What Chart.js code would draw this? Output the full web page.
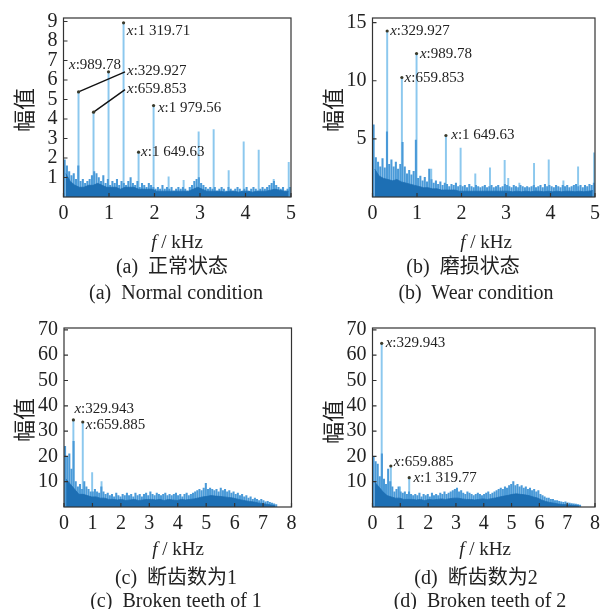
<!DOCTYPE html>
<html><head><meta charset="utf-8">
<script src="https://cdn.jsdelivr.net/npm/chart.js@4.4.1/dist/chart.umd.min.js"></script>
<style>
html,body{margin:0;padding:0;background:#fff;}
#wrap{position:relative;width:605px;height:609px;overflow:hidden;background:#fff;}
canvas{position:absolute;left:0;top:0;}
.t{position:absolute;transform:translate(-50%,-50%);white-space:nowrap;font-family:"Liberation Serif","Noto Sans CJK SC",serif;color:#222;line-height:1;}
.ax{font-size:19px;}
.cap{font-size:20px;}
.yt{font-family:"Noto Sans CJK SC",sans-serif;font-size:22px;transform:translate(-50%,-50%) rotate(-90deg);}
</style></head><body><div id="wrap">
<canvas id="ca" width="605" height="609"></canvas>
<canvas id="cb" width="605" height="609"></canvas>
<canvas id="cc" width="605" height="609"></canvas>
<canvas id="cd" width="605" height="609"></canvas>
<div class="t yt" style="left:22px;top:110px">幅值</div>
<div class="t yt" style="left:331px;top:110px">幅值</div>
<div class="t yt" style="left:22px;top:420px">幅值</div>
<div class="t yt" style="left:331px;top:422px">幅值</div>
<div class="t ax" style="left:177px;top:241px"><i>f</i> / kHz</div>
<div class="t ax" style="left:486px;top:241px"><i>f</i> / kHz</div>
<div class="t ax" style="left:178px;top:548px"><i>f</i> / kHz</div>
<div class="t ax" style="left:485px;top:548px"><i>f</i> / kHz</div>
<div class="t cap" style="left:172px;top:266px">(a)&nbsp; 正常状态</div>
<div class="t cap" style="left:176px;top:292px">(a)&nbsp; Normal condition</div>
<div class="t cap" style="left:463px;top:266px">(b)&nbsp; 磨损状态</div>
<div class="t cap" style="left:476px;top:292px">(b)&nbsp; Wear condition</div>
<div class="t cap" style="left:176px;top:577px">(c)&nbsp; 断齿数为1</div>
<div class="t cap" style="left:176px;top:600px">(c)&nbsp; Broken teeth of 1</div>
<div class="t cap" style="left:476px;top:577px">(d)&nbsp; 断齿数为2</div>
<div class="t cap" style="left:480px;top:600px">(d)&nbsp; Broken teeth of 2</div>
</div>
<script>
// ---------------- DATA ----------------
// tick labels
const xTicks5 = [0,1,2,3,4,5];
const xTicks8 = [0,1,2,3,4,5,6,7,8];
const yTicksA = [1,2,3,4,5,6,7,8,9];
const yTicksB = [5,10,15];
const yTicksCD = [10,20,30,40,50,60,70];

// frequency bin widths (kHz) of the noise arrays
const binTop5 = 0.05, binBase5 = 0.1;
const binTop8 = 0.075, binBase8 = 0.15;

// (a) normal condition
const noiseTopA = [
 1.9,1.6,1.3,1.1,1.2,0.9,1.6,0.8,0.9,0.7,
 0.8,0.9,1.1,1.3,1.2,1.0,0.8,1.1,0.7,0.9,
 0.6,0.8,0.7,0.9,0.6,0.8,0.7,0.6,0.8,1.0,
 0.7,0.6,0.8,0.5,0.7,0.6,0.5,0.7,0.6,0.5,
 0.4,0.5,0.4,0.6,0.4,0.5,0.4,0.5,0.3,0.4,
 0.5,0.4,0.5,0.4,0.3,0.5,0.6,0.8,0.9,1.0,
 0.7,0.6,0.5,0.4,0.5,0.4,0.5,0.3,0.4,0.5,
 0.4,0.3,0.5,0.4,0.3,0.4,0.5,0.4,0.3,0.4,
 0.5,0.3,0.4,0.5,0.4,0.3,0.4,0.5,0.4,0.5,
 0.6,0.7,0.8,0.6,0.5,0.4,0.5,0.3,0.4,0.5];
const noiseBaseA = [
 1.2,0.8,0.6,0.5,0.5,0.6,0.6,0.7,0.6,0.5,
 0.5,0.5,0.4,0.5,0.5,0.5,0.4,0.4,0.4,0.4,
 0.3,0.3,0.3,0.3,0.3,0.3,0.3,0.3,0.4,0.5,
 0.4,0.3,0.3,0.3,0.3,0.25,0.3,0.3,0.25,0.3,
 0.3,0.25,0.3,0.3,0.3,0.35,0.4,0.35,0.3,0.3];
const peakXA = [0.33,0.66,0.99,1.32,1.65,1.98,2.31,2.64,2.97,3.30,3.63,3.96,4.29,4.62,4.95];
const peakYA = [5.39,4.35,6.42,8.93,2.3,4.69,1.03,0.85,3.34,3.46,1.36,2.83,2.4,0.9,1.78];
const markTextA = ['329.927','659.853','989.78','1 319.71','1 649.63','1 979.56'];

// (b) wear condition
const noiseTopB = [
 6.2,3.4,3.0,2.6,3.3,2.5,5.6,2.8,3.2,2.6,
 3.0,2.4,2.8,4.7,2.6,2.0,2.3,1.9,2.2,4.9,
 1.6,1.8,1.4,1.7,1.3,2.4,1.5,1.2,1.4,1.1,
 1.3,1.0,1.2,1.1,0.9,1.1,1.0,1.2,0.9,1.0,
 0.9,1.0,0.8,1.1,0.9,0.8,1.0,0.9,0.8,0.9,
 1.0,0.8,0.9,1.0,0.8,0.9,1.0,0.8,0.9,1.1,
 1.0,0.9,0.8,1.0,0.9,0.8,1.0,0.9,0.8,0.9,
 0.8,0.9,1.0,0.8,0.9,1.0,0.8,1.1,0.9,1.0,
 0.9,0.8,1.0,0.9,0.8,1.0,0.9,1.0,0.8,0.9,
 1.0,1.1,0.9,1.0,0.8,1.0,0.9,1.1,1.0,1.2];
const noiseBaseB = [
 2.4,1.8,1.6,1.5,1.4,1.5,1.3,1.2,1.1,1.0,
 0.9,0.8,0.8,0.7,0.7,0.6,0.6,0.6,0.6,0.5,
 0.5,0.5,0.5,0.5,0.5,0.5,0.5,0.5,0.5,0.5,
 0.5,0.45,0.5,0.45,0.5,0.45,0.5,0.5,0.45,0.5,
 0.45,0.5,0.45,0.5,0.5,0.45,0.5,0.45,0.5,0.55];
const peakXB = [0.33,0.66,0.99,1.32,1.65,1.98,2.31,2.64,2.97,3.05,3.30,3.63,3.96,4.29,4.62,4.98];
const peakYB = [14.28,10.28,12.34,2.4,5.29,4.2,2.0,2.5,3.15,1.6,1.2,2.9,3.2,1.4,2.6,3.8];
const markTextB = ['329.927','659.853','989.78','1 649.63'];

// (c) broken teeth of 1
const noiseTopC = [
 24,20,21,15,26,10,8,9,7,10,
 8,7,6,6,7,6,5.5,8,6,5,
 5.5,4.5,5,4,5.5,4.5,4,5,4.5,5.5,
 4.5,5,4,5.5,4.5,5,4,5,5.5,4.5,
 6,5,4.5,5.5,5,4.5,5,5.5,4.5,5,
 4.5,5,5.5,4.5,5,4,5,5.5,4.5,5,
 5.5,6,6.5,7,6.5,7.5,9.4,7,7.5,7,
 6.5,7,6,7.5,6.5,7,6,6.5,5.5,6,
 5,5.5,4.5,5,4,4.5,3.5,4,3,3.5,
 3,2.5,3,2.5,2,2.2,1.8,1.5,1.3,1.0];
const noiseBaseC = [
 11,9,7,5,5,4.5,4,4,3.5,3.5,
 3,3,2.8,3,2.6,2.8,3,2.6,2.8,3,
 3,2.8,3,2.6,3,2.8,2.6,3,2.8,3,
 3.2,3.6,4,4.2,4.5,4.3,4.2,4,3.8,3.6,
 3.2,2.8,2.5,2.2,2,1.6,1.4,1.1,0.8,0.5];
const peakXC = [0.33,0.66,0.99,1.32];
const peakYC = [34.4,33.6,13.6,10];
const markTextC = ['329.943','659.885'];

// (d) broken teeth of 2
const noiseTopD = [
 20,18,17,12,21,11,9,15,10,8,
 6,7,8,6,5.5,6,5,6,5,4.5,
 5,4.5,5.5,4,5,4.5,5,4,5.5,4.5,
 5,4.5,5.5,5,6,5,5.5,6,6.5,7,
 7.5,6,6.5,5.5,5,6,5.5,5,4.5,5,
 5.5,5,4.5,5,5.5,6,5,5.5,6,6.5,
 7,7.5,7,8,7.5,8.5,9,10,8.5,9,
 8,8.5,7.5,8,7,7.5,6.5,7,6,6.5,
 5,4.5,4,3.5,3.5,3,3,2.5,2.5,2.2,
 2,1.8,2,1.6,1.5,1.4,1.3,1.2,1.0,0.8];
const noiseBaseD = [
 10,8,6,4.5,4,3.5,3.5,3,3,3,
 2.8,3,2.6,3,2.8,3,3.2,3,3.3,3.5,
 3.5,3.2,3,3,2.8,3,3.2,3,3.3,3.6,
 4,4.3,4.6,5,5.2,5,4.8,4.5,4,3.6,
 2.8,2.2,1.8,1.5,1.2,1,0.9,0.8,0.6,0.4];
const peakXD = [0.33,0.66,0.99,1.32];
const peakYD = [64.7,16.2,8,11.6];
const markTextD = ['329.943','659.885','1 319.77'];

// ---------------- RENDER ----------------
const COL_TOP = '#4a9ad8', COL_BASE = '#1d6fb4', COL_PEAK = '#8cc8ee';
const SERIF = '"Liberation Serif", "Times New Roman", serif';

function bins(vals, w){ return vals.map((v,i)=>({x:(i+0.5)*w, y:v})); }
function pairs(xs, ys){ return xs.map((x,i)=>({x:x, y:ys[i]})); }

function makeFrame(marks, peakX, peakY){
  return {
    id:'frame',
    afterDatasetsDraw(chart){
      const {ctx, chartArea:a, scales:{x, y}} = chart;
      ctx.save();
      ctx.strokeStyle = '#333'; ctx.lineWidth = 1.2;
      ctx.strokeRect(a.left, a.top, a.right - a.left, a.bottom - a.top);
      ctx.beginPath();
      x.ticks.forEach(t => { const p = x.getPixelForValue(t.value); ctx.moveTo(p, a.bottom); ctx.lineTo(p, a.bottom - 4); });
      y.ticks.forEach(t => { const p = y.getPixelForValue(t.value); ctx.moveTo(a.left, p); ctx.lineTo(a.left + 4, p); });
      ctx.stroke();
      marks.forEach(m => {
        const px = x.getPixelForValue(peakX[m.i]);
        const py = y.getPixelForValue(peakY[m.i]);
        if (m.lead){
          ctx.beginPath(); ctx.strokeStyle = '#111'; ctx.lineWidth = 1.4;
          ctx.moveTo(px, py); ctx.lineTo(px + m.lead[0], py + m.lead[1]); ctx.stroke();
        }
        ctx.fillStyle = '#3b3a2a';
        ctx.beginPath(); ctx.arc(px, py, 1.6, 0, Math.PI*2); ctx.fill();
        ctx.fillStyle = '#222'; ctx.textBaseline = 'middle'; ctx.textAlign = 'left';
        ctx.font = 'italic 15px ' + SERIF;
        ctx.fillText('x', px + m.dx, py + m.dy);
        const w = ctx.measureText('x').width;
        ctx.font = '15px ' + SERIF;
        ctx.fillText(':' + m.text, px + m.dx + w, py + m.dy);
      });
      ctx.restore();
    }
  };
}

function makeChart(id, c){
  const tickFont = {family: SERIF, size: 20};
  new Chart(document.getElementById(id), {
    type: 'bar',
    data: { datasets: [
      { type:'line', data: bins(c.base, c.binBase), borderColor: COL_BASE, backgroundColor: COL_BASE,
        borderWidth: 0.8, fill: 'origin', pointRadius: 0, tension: 0 },
      { type:'bar', data: bins(c.top, c.binTop), backgroundColor: COL_TOP, barThickness: 1.4,
        grouped: false, borderWidth: 0 },
      { type:'bar', data: pairs(c.px, c.py), backgroundColor: COL_PEAK, barThickness: 1.3,
        grouped: false, borderWidth: 0 }
    ]},
    options: {
      responsive: false, animation: false, devicePixelRatio: 1, events: [],
      layout: { padding: { left: 0, top: c.box.top, right: 605 - c.box.right, bottom: 0 } },
      plugins: { legend: { display: false }, tooltip: { enabled: false } },
      scales: {
        x: { type: 'linear', min: 0, max: c.xMax, offset: false,
             grid: { display: false, drawTicks: false }, border: { display: false },
             afterBuildTicks: s => { s.ticks = c.xTicks.map(v => ({value: v})); },
             afterFit: s => { s.height = 609 - c.box.bottom; },
             ticks: { font: tickFont, color: '#222', padding: 5, maxRotation: 0, autoSkip: false } },
        y: { type: 'linear', min: 0, max: c.yMax,
             grid: { display: false, drawTicks: false }, border: { display: false },
             afterBuildTicks: s => { s.ticks = c.yTicks.map(v => ({value: v})); },
             afterFit: s => { s.width = c.box.left; },
             ticks: { font: tickFont, color: '#222', padding: 6, autoSkip: false } }
      }
    },
    plugins: [makeFrame(c.marks, c.px, c.py)]
  });
}

makeChart('ca', { xMax: 5, yMax: 9.18, xTicks: xTicks5, yTicks: yTicksA,
  box: {left: 63.5, right: 291, top: 18, bottom: 197},
  top: noiseTopA, base: noiseBaseA, binTop: binTop5, binBase: binBase5,
  px: peakXA, py: peakYA,
  marks: [
    {i:0, text: markTextA[0], dx: 48.5, dy: -21, lead: [46.5, -20]},
    {i:1, text: markTextA[1], dx: 33.5, dy: -23.5, lead: [31.5, -22.5]},
    {i:2, text: markTextA[2], dx: -39.5, dy: -6.7},
    {i:3, text: markTextA[3], dx: 3.3, dy: 8.4},
    {i:4, text: markTextA[4], dx: 2.5, dy: 0},
    {i:5, text: markTextA[5], dx: 4.3, dy: 3}
  ]});

makeChart('cb', { xMax: 5, yMax: 15.4, xTicks: xTicks5, yTicks: yTicksB,
  box: {left: 372.5, right: 599, top: 18, bottom: 197},
  top: noiseTopB, base: noiseBaseB, binTop: binTop5, binBase: binBase5,
  px: peakXB, py: peakYB,
  marks: [
    {i:0, text: markTextB[0], dx: 3, dy: 0},
    {i:1, text: markTextB[1], dx: 2.7, dy: 0.3},
    {i:2, text: markTextB[2], dx: 3.4, dy: 0},
    {i:4, text: markTextB[3], dx: 5.3, dy: 0}
  ]});

makeChart('cc', { xMax: 8, yMax: 70.75, xTicks: xTicks8, yTicks: yTicksCD,
  box: {left: 64, right: 291.5, top: 328, bottom: 507},
  top: noiseTopC, base: noiseBaseC, binTop: binTop8, binBase: binBase8,
  px: peakXC, py: peakYC,
  marks: [
    {i:0, text: markTextC[0], dx: 1, dy: -10.7},
    {i:1, text: markTextC[1], dx: 3, dy: 3}
  ]});

makeChart('cd', { xMax: 8, yMax: 70.75, xTicks: xTicks8, yTicks: yTicksCD,
  box: {left: 372.5, right: 598, top: 328, bottom: 507},
  top: noiseTopD, base: noiseBaseD, binTop: binTop8, binBase: binBase8,
  px: peakXD, py: peakYD,
  marks: [
    {i:0, text: markTextD[0], dx: 4, dy: 0},
    {i:1, text: markTextD[1], dx: 3, dy: -4.3},
    {i:3, text: markTextD[2], dx: 4.3, dy: 0}
  ]});
</script>
</body></html>
